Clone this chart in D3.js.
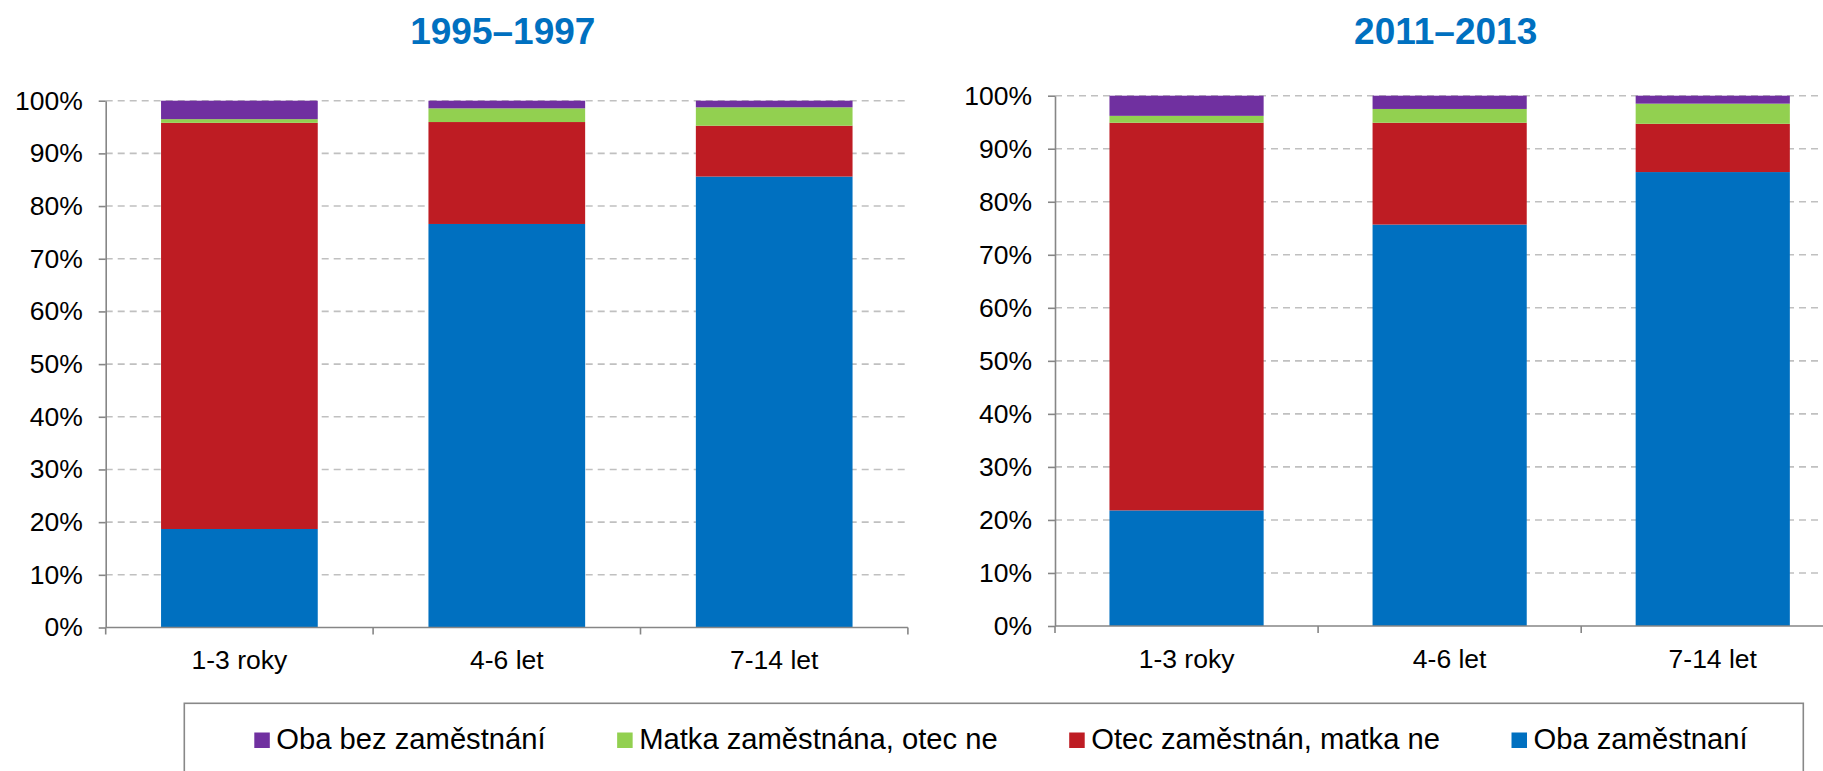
<!DOCTYPE html>
<html>
<head>
<meta charset="utf-8">
<script src="https://cdn.jsdelivr.net/npm/d3@7"></script>
<style>
  html, body { margin: 0; padding: 0; background: #fff; }
  svg { display: block; font-family: "Liberation Sans", Arial, sans-serif; }
</style>
</head>
<body>
<svg id="chart" width="1823" height="771"></svg>
<script>
// ---------- DATA ----------
const categories = ["1-3 roky", "4-6 let", "7-14 let"];
const panelTitles = ["1995–1997", "2011–2013"];
const seriesNames = ["Oba zaměstnaní", "Otec zaměstnán, matka ne", "Matka zaměstnána, otec ne", "Oba bez zaměstnání"];
const seriesColors = ["#0070C0", "#BE1C23", "#92D050", "#7030A0"];
const legendOrder = ["Oba bez zaměstnání", "Matka zaměstnána, otec ne", "Otec zaměstnán, matka ne", "Oba zaměstnaní"];
const yTicks = [0, 0.1, 0.2, 0.3, 0.4, 0.5, 0.6, 0.7, 0.8, 0.9, 1.0];

// 1995–1997 (percent of children)
const obaZamestnani_1995 = [18.7, 76.6, 85.6];
const otecZamestnan_1995 = [77.1, 19.35, 9.65];
const matkaZamestnana_1995 = [0.7, 2.6, 3.5];
const obaBez_1995 = [3.5, 1.45, 1.25];

// 2011–2013 (percent of children)
const obaZamestnani_2011 = [21.8, 75.7, 85.6];
const otecZamestnan_2011 = [73.1, 19.2, 9.1];
const matkaZamestnana_2011 = [1.3, 2.6, 3.8];
const obaBez_2011 = [3.8, 2.5, 1.5];

const panelsData = [
  [obaZamestnani_1995, otecZamestnan_1995, matkaZamestnana_1995, obaBez_1995],
  [obaZamestnani_2011, otecZamestnan_2011, matkaZamestnana_2011, obaBez_2011]
];

// ---------- LAYOUT ----------
const panelLayout = [
  { x0: 105.7, step: 267.4, yBottom: 627.5, yTop: 100.7, gridEnd: 907 },
  { x0: 1055,  step: 263.1, yBottom: 626.0, yTop: 95.7,  gridEnd: 1823 }
];
const axisColor = "#868686";
const gridColor = "#C0C0C0";
const tickFont = 26.5;
const legendFont = 29.2;

const svg = d3.select("#chart");

panelsData.forEach((series, pi) => {
  const L = panelLayout[pi];
  const g = svg.append("g");

  const x = d3.scaleBand()
    .domain(categories)
    .range([L.x0, L.x0 + categories.length * L.step])
    .paddingInner(0.414)
    .paddingOuter(0.207);
  const y = d3.scaleLinear().domain([0, 1]).range([L.yBottom, L.yTop]);

  // gridlines
  g.append("g").selectAll("line")
    .data(yTicks.filter(d => d > 0))
    .join("line")
    .attr("x1", L.x0).attr("x2", L.gridEnd)
    .attr("y1", d => y(d)).attr("y2", d => y(d))
    .attr("stroke", gridColor)
    .attr("stroke-width", 1.6)
    .attr("stroke-dasharray", "7,5");

  // stacked data
  const rows = categories.map((c, i) => {
    const r = { cat: c };
    seriesNames.forEach((s, si) => { r[s] = series[si][i] / 100; });
    return r;
  });
  const stack = d3.stack().keys(seriesNames)(rows);

  g.append("g").selectAll("g")
    .data(stack)
    .join("g")
    .attr("fill", (d, i) => seriesColors[i])
    .selectAll("rect")
    .data(d => d)
    .join("rect")
    .attr("x", d => x(d.data.cat))
    .attr("width", x.bandwidth())
    .attr("y", d => y(d[1]))
    .attr("height", d => y(d[0]) - y(d[1]));

  // y axis
  const yAxis = d3.axisLeft(y)
    .tickValues(yTicks)
    .tickFormat(d3.format(".0%"))
    .tickSize(7)
    .tickSizeOuter(0)
    .tickPadding(16);
  const ya = g.append("g").attr("transform", `translate(${L.x0},0)`).call(yAxis);
  ya.select(".domain").attr("stroke", axisColor).attr("stroke-width", 1.6);
  ya.selectAll(".tick line").attr("stroke", axisColor).attr("stroke-width", 1.6);
  ya.selectAll(".tick text").attr("font-size", tickFont).attr("fill", "#000")
    .attr("font-family", "Liberation Sans, Arial, sans-serif");

  // x axis (labels)
  const xAxis = d3.axisBottom(x).tickSize(0).tickSizeOuter(0).tickPadding(23);
  const xa = g.append("g").attr("transform", `translate(0,${L.yBottom})`).call(xAxis);
  xa.select(".domain").remove();
  xa.selectAll(".tick text").attr("font-size", tickFont).attr("fill", "#000")
    .attr("font-family", "Liberation Sans, Arial, sans-serif");
  // x axis line
  g.append("line")
    .attr("x1", L.x0).attr("x2", Math.min(L.x0 + categories.length * L.step, 1823))
    .attr("y1", L.yBottom).attr("y2", L.yBottom)
    .attr("stroke", axisColor).attr("stroke-width", 1.6);
  // boundary ticks
  const bounds = categories.map(c => x(c) - x.step() * x.paddingInner() / 2)
    .concat([x(categories[categories.length - 1]) + x.bandwidth() + x.step() * x.paddingInner() / 2]);
  g.append("g").selectAll("line")
    .data(bounds)
    .join("line")
    .attr("x1", d => d).attr("x2", d => d)
    .attr("y1", L.yBottom).attr("y2", L.yBottom + 7)
    .attr("stroke", axisColor).attr("stroke-width", 1.6);

  // title
  const plotCenter = (L.x0 + L.x0 + categories.length * L.step) / 2 - 4;
  g.append("text")
    .attr("x", plotCenter)
    .attr("y", 43.5)
    .attr("text-anchor", "middle")
    .attr("font-size", 37)
    .attr("font-weight", "bold")
    .attr("fill", "#0070C0")
    .text(panelTitles[pi]);
});

// ---------- LEGEND ----------
svg.append("rect")
  .attr("x", 184.3).attr("y", 703.3)
  .attr("width", 1619).attr("height", 120)
  .attr("fill", "none")
  .attr("stroke", "#888")
  .attr("stroke-width", 1.6);

const legend = svg.append("g");
let lx = 254.3;
legendOrder.forEach(name => {
  const ci = seriesNames.indexOf(name);
  legend.append("rect")
    .attr("x", lx).attr("y", 732.5)
    .attr("width", 15.5).attr("height", 15.5)
    .attr("fill", seriesColors[ci]);
  const t = legend.append("text")
    .attr("x", lx + 22).attr("y", 748.5)
    .attr("font-size", legendFont)
    .attr("fill", "#000")
    .text(name);
  const w = t.node().getComputedTextLength();
  lx = lx + 22 + w + 71.5;
});
</script>
</body>
</html>
